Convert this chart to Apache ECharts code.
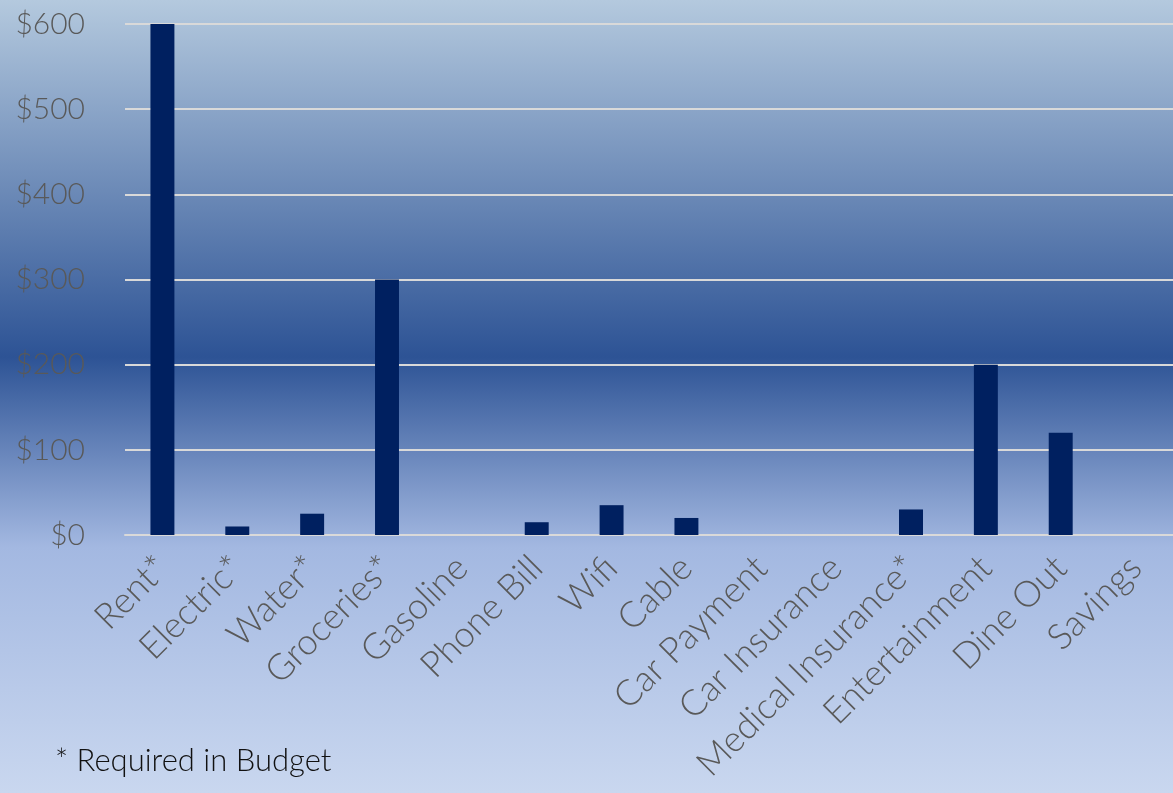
<!DOCTYPE html>
<html>
<head>
<meta charset="utf-8">
<script src="https://cdn.jsdelivr.net/npm/echarts@6/dist/echarts.min.js"></script>
<style>
html,body{margin:0;padding:0;}
#chart{width:1173px;height:793px;}
</style>
</head>
<body>
<div id="chart"></div>
<script>
const categories = ['Rent*','Electric*','Water*','Groceries*','Gasoline','Phone Bill','Wifi','Cable','Car Payment','Car Insurance','Medical Insurance*','Entertainment','Dine Out','Savings'];
const amounts = [600, 10, 25, 300, 0, 15, 35, 20, 0, 0, 30, 200, 120, 0];
const yTicks = [0, 100, 200, 300, 400, 500, 600];
const footnote = '* Required in Budget';

const FONT = 'Lato, "Open Sans", sans-serif';
const chart = echarts.init(document.getElementById('chart'));
chart.setOption({
  animation: false,
  backgroundColor: new echarts.graphic.LinearGradient(0, 0, 0, 1, [
    {offset: 0, color: '#b4c9de'},
    {offset: 0.45, color: '#2d5395'},
    {offset: 0.69, color: '#a3b8e1'},
    {offset: 1, color: '#c9d7ef'}
  ]),
  grid: {left: 125, right: 0, top: 24, bottom: 258, containLabel: false},
  xAxis: {
    type: 'category',
    data: categories,
    axisLine: {show: true, lineStyle: {color: '#d9d9d9', width: 2}},
    axisTick: {show: false},
    axisLabel: {
      rotate: 45, interval: 0, margin: 27,
      color: '#595959', fontFamily: FONT, fontWeight: 300, fontSize: 36
    }
  },
  yAxis: {
    type: 'value',
    min: yTicks[0], max: yTicks[yTicks.length - 1], interval: 100,
    axisLine: {show: false},
    axisTick: {show: false},
    splitLine: {lineStyle: {color: '#d9d9d9', width: 2}},
    axisLabel: {
      margin: 40, color: '#595959', fontFamily: FONT, fontWeight: 300, fontSize: 30,
      formatter: v => '$' + v
    }
  },
  series: [{
    type: 'bar',
    data: amounts,
    barWidth: '32%',
    itemStyle: {color: '#002060', borderWidth: 0}
  }],
  graphic: [{
    type: 'text', left: 55, top: 745,
    style: {text: footnote, fill: '#111111', font: '300 31px ' + FONT}
  }]
});
</script>
</body>
</html>
